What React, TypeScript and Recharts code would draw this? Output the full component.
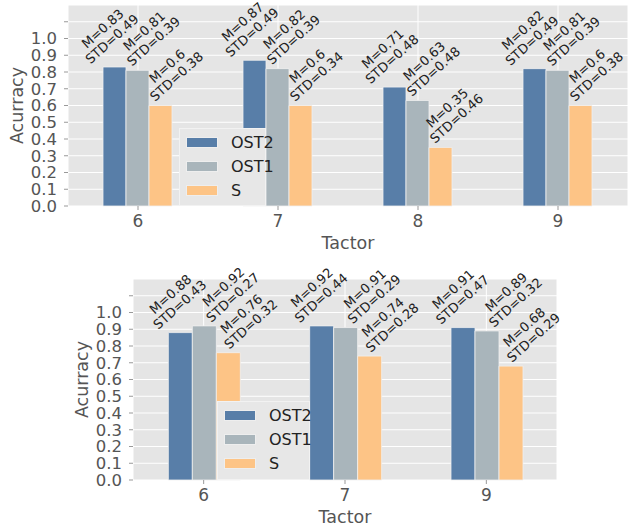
import React from 'react'
import { BarChart, Bar, XAxis, YAxis, CartesianGrid, Legend, LabelList } from 'recharts'

document.body.style.margin = '0'

const FONT = '"DejaVu Sans", sans-serif'

const seriesNames = ['OST2', 'OST1', 'S']
const seriesColors = ['#587ea8', '#a9b5bb', '#fdc486']

// upper panel
const topTactors = ['6', '7', '8', '9']
const topOst2 = [0.83, 0.87, 0.71, 0.82]
const topOst2Std = [0.49, 0.49, 0.48, 0.49]
const topOst1 = [0.81, 0.82, 0.63, 0.81]
const topOst1Std = [0.39, 0.39, 0.48, 0.39]
const topS = [0.6, 0.6, 0.35, 0.6]
const topSStd = [0.38, 0.34, 0.46, 0.38]

// lower panel
const bottomTactors = ['6', '7', '9']
const bottomOst2 = [0.88, 0.92, 0.91]
const bottomOst2Std = [0.43, 0.44, 0.47]
const bottomOst1 = [0.92, 0.91, 0.89]
const bottomOst1Std = [0.27, 0.29, 0.32]
const bottomS = [0.76, 0.74, 0.68]
const bottomSStd = [0.32, 0.28, 0.29]

const yTicks = [0, 0.1, 0.2, 0.3, 0.4, 0.5, 0.6, 0.7, 0.8, 0.9, 1.0, 1.1]

const buildRows = (tactors: string[], ost2: number[], ost1: number[], s: number[]) =>
  tactors.map((t, i) => ({ tactor: t, OST2: ost2[i], OST1: ost1[i], S: s[i] }))

const topRows = buildRows(topTactors, topOst2, topOst1, topS)
const bottomRows = buildRows(bottomTactors, bottomOst2, bottomOst1, bottomS)

const LABEL_ANGLE = 42
const LABEL_SIZE = 13
const LABEL_HALF = 33 // half length of the STD line, lines are centred on it

// rotated two-line "M= / STD=" annotation, anchored at the start of the STD line
const makeLabel = (stds: number[], sx: number, sy: number) => (props: any) => {
  const { x, y, width, value, index } = props
  const ax = Number(x) + Number(width) / 2 + sx
  const ay = Number(y) + sy
  return (
    <text
      transform={`translate(${ax} ${ay}) rotate(${-LABEL_ANGLE})`}
      textAnchor="middle"
      fontSize={LABEL_SIZE}
      fontFamily={FONT}
      fill="#222"
    >
      <tspan x={LABEL_HALF} y={-14}>{`M=${value}`}</tspan>
      <tspan x={LABEL_HALF} y={0}>{`STD=${stds[index]}`}</tspan>
    </text>
  )
}

const yLabel = (props: any) => {
  const { viewBox } = props
  const cx = viewBox.x + 23
  const cy = viewBox.y + viewBox.height / 2
  return (
    <text
      x={cx}
      y={cy}
      transform={`rotate(-90 ${cx} ${cy})`}
      textAnchor="middle"
      fontSize={17.5}
      fontFamily={FONT}
      fill="#555"
    >
      Acurracy
    </text>
  )
}

const xLabel = (props: any) => {
  const { viewBox } = props
  return (
    <text
      x={viewBox.x + viewBox.width / 2}
      y={viewBox.y + 42.5}
      textAnchor="middle"
      fontSize={17.5}
      fontFamily={FONT}
      fill="#555"
    >
      Tactor
    </text>
  )
}

const renderLegend = (w: number, h: number) => () => (
  <div
    style={{
      position: 'relative',
      width: w,
      height: h,
      background: '#e7e7e7',
      border: '1px solid #f2f2f2',
      boxSizing: 'border-box',
      fontFamily: FONT,
    }}
  >
    {seriesNames.map((name, i) => (
      <div
        key={name}
        style={{ position: 'absolute', left: 6, top: 7.5 + i * 24.3, display: 'flex', alignItems: 'center' }}
      >
        <span
          style={{
            display: 'inline-block',
            width: 32,
            height: 11,
            background: seriesColors[i],
            border: '1px solid #eeeeee',
            boxSizing: 'border-box',
          }}
        />
        <span style={{ marginLeft: 13, fontSize: 16, color: '#222', lineHeight: '11px' }}>{name}</span>
      </div>
    ))}
  </div>
)

interface PanelProps {
  rows: any[]
  stds: number[][]
  width: number
  height: number
  margin: { top: number; right: number; bottom: number; left: number }
  xHeight: number
  labelStart: number[][]
  legendBox: { left: number; top: number; w: number; h: number }
  rightTicks: boolean
}

function Panel({ rows, stds, width, height, margin, xHeight, labelStart, legendBox, rightTicks }: PanelProps) {
  return (
    <BarChart
      width={width}
      height={height}
      data={rows}
      margin={margin}
      barCategoryGap="25%"
      barGap={0}
    >
      <CartesianGrid stroke="#ffffff" strokeWidth={1} fill="#e5e5e5" />
      <XAxis
        dataKey="tactor"
        height={xHeight}
        interval={0}
        axisLine={false}
        tickSize={4}
        tickMargin={5}
        tickLine={{ stroke: '#999' }}
        tick={{ fill: '#555', fontSize: 17, fontFamily: FONT }}
        label={xLabel}
      />
      <XAxis
        xAxisId="top"
        dataKey="tactor"
        orientation="top"
        height={0}
        interval={0}
        axisLine={false}
        tickSize={4}
        tickLine={{ stroke: '#999' }}
        tick={false}
      />
      <YAxis
        width={68}
        domain={[0, 1.2]}
        ticks={yTicks}
        interval={0}
        axisLine={false}
        tickSize={4}
        tickMargin={7}
        tickLine={{ stroke: '#999' }}
        tick={{ fill: '#555', fontSize: 16.5, fontFamily: FONT }}
        tickFormatter={(v: number) => (v > 1.05 ? '' : v.toFixed(1))}
        label={yLabel}
      />
      {rightTicks && (
        <YAxis
          yAxisId="right"
          orientation="right"
          width={0}
          domain={[0, 1.2]}
          ticks={yTicks}
          interval={0}
          axisLine={false}
          tickSize={3}
          tickLine={{ stroke: '#999' }}
          tick={false}
        />
      )}
      <Legend
        layout="vertical"
        align="center"
        verticalAlign="middle"
        wrapperStyle={{ left: legendBox.left, top: legendBox.top, width: legendBox.w, height: legendBox.h }}
        content={renderLegend(legendBox.w, legendBox.h)}
      />
      {seriesNames.map((name, i) => (
        <Bar
          key={name}
          dataKey={name}
          fill={seriesColors[i]}
          stroke="#f0f0f0"
          strokeWidth={0.8}
          isAnimationActive={false}
        >
          <LabelList
            dataKey={name}
            content={makeLabel(stds[i], labelStart[i][0], labelStart[i][1])}
          />
        </Bar>
      ))}
    </BarChart>
  )
}

export default function App() {
  return (
    <div style={{ position: 'relative', width: 628, height: 529, background: '#fff', overflow: 'hidden' }}>
      <div style={{ position: 'absolute', left: 0, top: 0 }}>
        <Panel
          rows={topRows}
          stds={[topOst2Std, topOst1Std, topSStd]}
          width={628}
          height={257}
          margin={{ top: 5, right: 0, bottom: 0, left: 0 }}
          xHeight={51}
          labelStart={[[-24, -2.5], [-5.5, -3.5], [-5.5, -3.5]]}
          legendBox={{ left: 179, top: 128, w: 87, h: 78 }}
          rightTicks={false}
        />
      </div>
      <div style={{ position: 'absolute', left: 0, top: 262 }}>
        <Panel
          rows={bottomRows}
          stds={[bottomOst2Std, bottomOst1Std, bottomSStd]}
          width={628}
          height={267}
          margin={{ top: 17, right: 71, bottom: 0, left: 65 }}
          xHeight={49}
          labelStart={[[-22, -2.5], [7, -3], [1, -3]]}
          legendBox={{ left: 217, top: 139, w: 93, h: 79 }}
          rightTicks={true}
        />
      </div>
    </div>
  )
}
